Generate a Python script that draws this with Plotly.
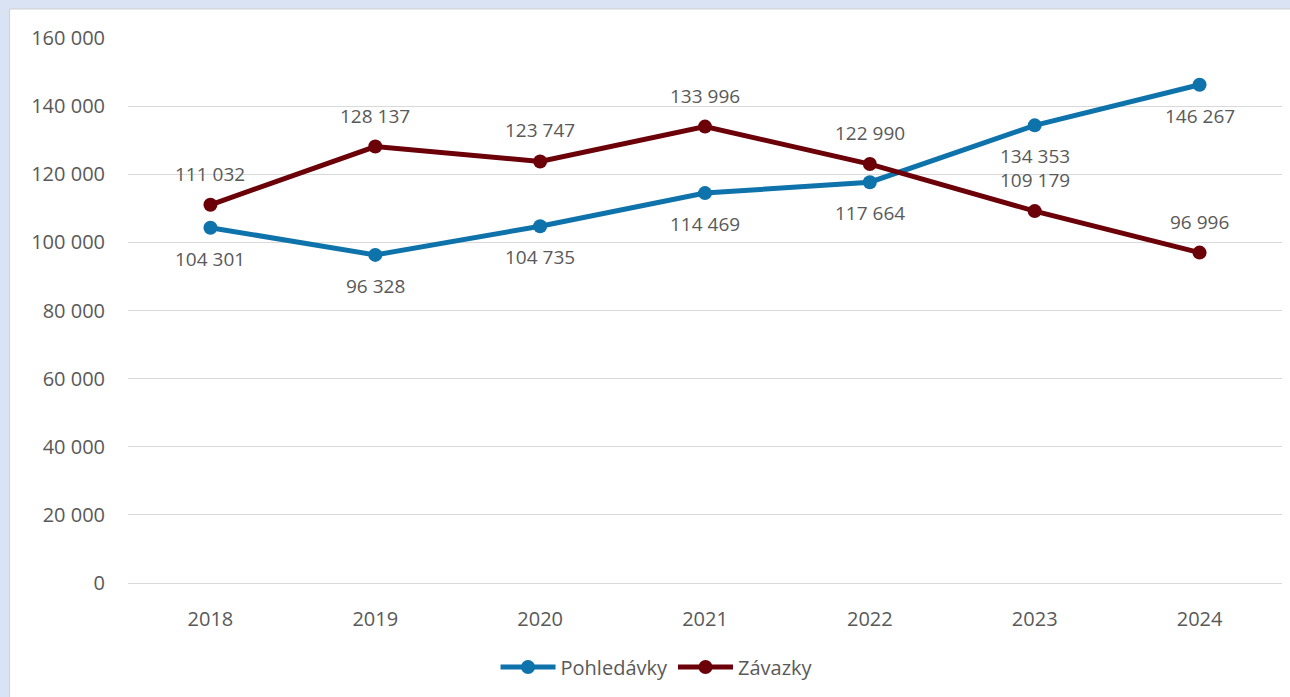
import plotly.graph_objects as go

years = ["2018", "2019", "2020", "2021", "2022", "2023", "2024"]
pohledavky = [104301, 96328, 104735, 114469, 117664, 134353, 146267]
zavazky = [111032, 128137, 123747, 133996, 122990, 109179, 96996]
y_ticks = [0, 20000, 40000, 60000, 80000, 100000, 120000, 140000, 160000]

BLUE = "#0E72AB"
MAROON = "#6B0008"
TXT = "#595959"
FONT = "Open Sans"

def fmt(v):
    return f"{v:,}".replace(",", " ")

fig = go.Figure()
fig.add_trace(go.Scatter(x=years, y=pohledavky, name="Pohledávky", mode="lines+markers",
                         line=dict(color=BLUE, width=5), marker=dict(size=14, color=BLUE)))
fig.add_trace(go.Scatter(x=years, y=zavazky, name="Závazky", mode="lines+markers",
                         line=dict(color=MAROON, width=5), marker=dict(size=14, color=MAROON)))

annotations = []
for i, v in enumerate(pohledavky):
    annotations.append(dict(x=i, y=v, xref="x", yref="y", text=fmt(v), showarrow=False,
                            yshift=-31, font=dict(family=FONT, size=19, color=TXT)))
for i, v in enumerate(zavazky):
    annotations.append(dict(x=i, y=v, xref="x", yref="y", text=fmt(v), showarrow=False,
                            yshift=31, font=dict(family=FONT, size=19, color=TXT)))

L, R, T, B = 127.5, 7.5, 38, 114
pw = 1290 - L - R
ph = 697 - T - B

fig.update_layout(
    width=1290, height=697,
    margin=dict(l=L, r=R, t=T, b=B, pad=0),
    paper_bgcolor="#DAE3F3",
    plot_bgcolor="rgba(0,0,0,0)",
    separators=", ",
    font=dict(family=FONT, size=20, color=TXT),
    annotations=annotations,
    shapes=[dict(type="rect", xref="paper", yref="paper", layer="below",
                 x0=(9 - L) / pw, x1=1.2, y0=-0.5, y1=1 + (T - 9) / ph,
                 fillcolor="white", line=dict(color="#D0D0D0", width=1))],
    xaxis=dict(type="category", range=[-0.5, 6.5], showgrid=False, showline=True,
               linecolor="#D9D9D9", linewidth=1, ticks="", ticklabelstandoff=18,
               tickfont=dict(family=FONT, size=20, color=TXT)),
    yaxis=dict(range=[0, 160000], tickvals=y_ticks, ticktext=[fmt(v) for v in y_ticks],
               showgrid=True, gridcolor="#D9D9D9", gridwidth=1, zeroline=False,
               showline=False, ticks="", ticklabelstandoff=22,
               tickfont=dict(family=FONT, size=20, color=TXT)),
    legend=dict(orientation="h", x=0.458, y=(583 - 667) / ph, xanchor="center", yanchor="middle",
                font=dict(family=FONT, size=20, color=TXT), itemwidth=55,
                bgcolor="rgba(0,0,0,0)"),
    showlegend=True,
)

fig.write_html("out.html", config={"displayModeBar": False},
               post_script="document.body.style.margin='0';document.body.style.overflow='hidden';")
